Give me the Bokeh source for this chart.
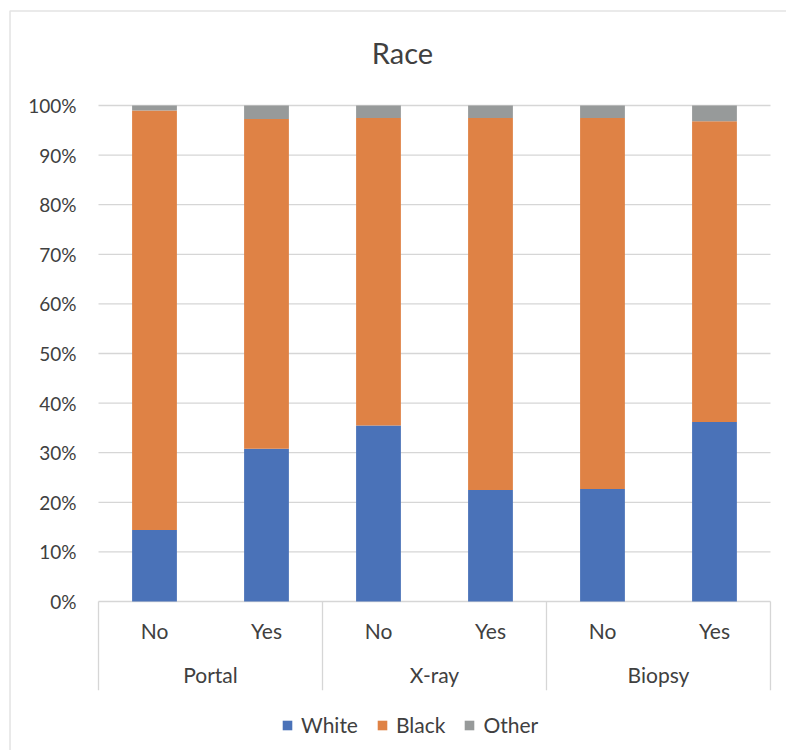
from bokeh.plotting import figure
from bokeh.models import ColumnDataSource, Range1d, BoxAnnotation
from bokeh.core.properties import value
from bokeh.embed import file_html
from bokeh.resources import INLINE

# Stacked shares (%) of each race within every test / answer group
groups = ["Portal", "X-ray", "Biopsy"]
answers = ["No", "Yes"]
races = ["White", "Black", "Other"]
white = [14.4, 30.8, 35.5, 22.5, 22.7, 36.2]
black = [84.6, 66.5, 62.0, 75.0, 74.8, 60.6]
other = [1.0, 2.7, 2.5, 2.5, 2.5, 3.2]
y_ticks = [0, 10, 20, 30, 40, 50, 60, 70, 80, 90, 100]
title = "Race"

colors = ["#4A72B8", "#DF8245", "#979A9A"]
FONT = "Lato"
TEXT = "#404040"
RULE = "#D6D6D6"

# one slot per (group, answer) pair along x; group g spans slots 2g .. 2g+2
n_slots = len(groups) * len(answers)
slot_x = [i + 0.5 for i in range(n_slots)]
group_x = [len(answers) * (g + 0.5) for g in range(len(groups))]
sep_x = [len(answers) * g for g in range(len(groups) + 1)]

src = ColumnDataSource(dict(x=slot_x, White=white, Black=black, Other=other))

# the frame is the whole canvas: tick labels sit left of slot 0,
# the title above 100 %, the category rows and legend below 0 %
p = figure(width=786, height=750, x_range=Range1d(-0.875, 6.143),
           y_range=Range1d(-30.04, 121.17), x_axis_location=None,
           y_axis_location=None, output_backend="svg", toolbar_location=None,
           min_border=0)
p.outline_line_color = None
p.background_fill_color = "white"
p.border_fill_color = "white"
p.grid.visible = False

# horizontal gridlines across the plotting slots
p.segment(x0=sep_x[0], x1=sep_x[-1], y0=y_ticks, y1=y_ticks,
          line_color=RULE, line_width=1.3)

p.vbar_stack(races, x="x", width=0.4, source=src, fill_color=colors,
             line_color=None, legend_label=races)

# value-axis labels
p.text(x=-0.196, y=y_ticks, text=[f"{t}%" for t in y_ticks], text_align="right",
       text_baseline="middle", text_font=value(FONT), text_font_size="19px",
       text_color=TEXT)

# title
p.text(x=[2.714], y=110.6, text=[title], text_align="center",
       text_baseline="middle", text_font=value(FONT), text_font_size="29px",
       text_color=TEXT)

# two-level category labels under the bars
answer_labels = [a for g in groups for a in answers]
p.text(x=slot_x, y=-5.9, text=answer_labels, text_align="center",
       text_baseline="middle", text_font=value(FONT), text_font_size="21px",
       text_color=TEXT)
p.text(x=group_x, y=-14.8, text=groups, text_align="center",
       text_baseline="middle", text_font=value(FONT), text_font_size="21px",
       text_color=TEXT)

# separators bounding each group of labels
p.segment(x0=sep_x, y0=0, x1=sep_x, y1=-17.9, line_color=RULE, line_width=1.3)

# legend along the bottom
leg = p.legend[0]
leg.orientation = "horizontal"
leg.location = (281, 13)
leg.border_line_color = None
leg.background_fill_alpha = 0
leg.padding = 0
leg.margin = 0
leg.spacing = 18
leg.glyph_width = 12
leg.glyph_height = 12
leg.label_standoff = 8
leg.label_text_font = FONT
leg.label_text_font_size = "21px"
leg.label_text_color = TEXT

# outer chart frame; its right and bottom edges lie beyond the canvas
p.add_layout(BoxAnnotation(left=9.5, right=900, top=10.5, bottom=900,
                           left_units="canvas", right_units="canvas",
                           top_units="canvas", bottom_units="canvas",
                           fill_color=None, line_color="#A6A6A6",
                           line_width=1.6))

open("out.html", "w").write(file_html(p, INLINE))
